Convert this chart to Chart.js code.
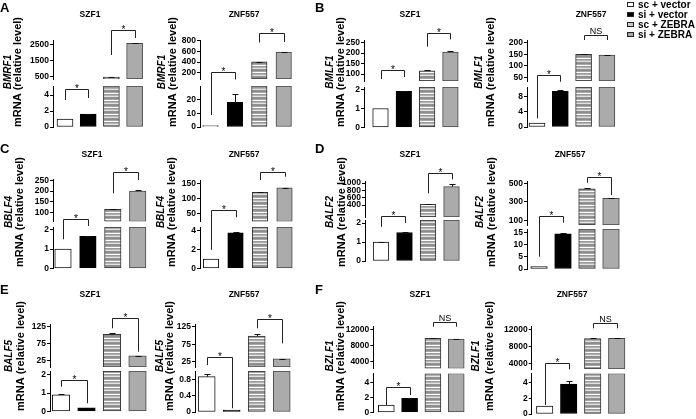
<!DOCTYPE html>
<html>
<head>
<meta charset="utf-8">
<script src="https://cdn.jsdelivr.net/npm/chart.js@4.4.1/dist/chart.umd.min.js"></script>
<style>
html, body { margin: 0; padding: 0; background: #fff; overflow: hidden; width: 696px; height: 419px; }
#fig { position: relative; width: 696px; height: 419px; font-family: "Liberation Sans", Arial, sans-serif; }
#fig canvas { position: absolute; }
.letter { position: absolute; font-weight: bold; font-size: 13px; line-height: 13px; }
.key { position: absolute; left: 627px; font-size: 10px; font-weight: bold; line-height: 10px; white-space: nowrap; }
.key i { display: inline-block; width: 5px; height: 3px; border: 1px solid #222; margin-right: 4px; vertical-align: 1px; }
</style>
</head>
<body>
<div id="fig"></div>
<script>
// groups in legend order
const groups = ['sc + vector', 'si + vector', 'sc + ZEBRA', 'si + ZEBRA'];
const cells = ['SZF1', 'ZNF557'];
const genes = ['BMRF1', 'BMLF1', 'BBLF4', 'BALF2', 'BALF5', 'BZLF1'];

// relative mRNA levels + error
const aSzf1 = [1, 1.6, 490, 2600];     const aSzf1Err = [0, 0.03, 20, 40];
const aZnf  = [1, 18, 405, 585];       const aZnfErr  = [0, 6, 5, 10];
const bSzf1 = [1, 1.9, 115, 205];      const bSzf1Err = [0, 0.02, 2, 5];
const bZnf  = [1, 9.3, 150, 146];      const bZnfErr  = [0, 0.3, 1, 2];
const cSzf1 = [1, 1.65, 115, 200];     const cSzf1Err = [0, 0.02, 2, 5];
const cZnf  = [1, 3.8, 120, 135];      const cZnfErr  = [0, 0.05, 1, 1];
const dSzf1 = [1, 1.5, 420, 900];      const dSzf1Err = [0.02, 0.02, 15, 60];
const dZnf  = [1, 14.3, 440, 340];     const dZnfErr  = [0, 0.2, 5, 5];
const eSzf1 = [0.9, 0.2, 103, 40];     const eSzf1Err = [0.07, 0, 5, 1];
const eZnf  = [0.87, 0.05, 98, 33];    const eZnfErr  = [0.06, 0, 6, 1];
const fSzf1 = [1, 1.9, 9900, 9700];    const fSzf1Err = [0, 0.05, 60, 40];
const fZnf  = [1, 3.8, 9800, 9900];    const fZnfErr  = [0, 0.4, 60, 60];

// tick labels, upper and lower part of each broken axis
const aSzf1Hi = [500, 1500, 2500];      const aSzf1Lo = [0, 2, 4];
const aZnfHi  = [200, 400, 600, 800];   const aZnfLo  = [0, 10, 20];
const bSzf1Hi = [100, 150, 200, 250];   const bSzf1Lo = [0, 1, 2];
const bZnfHi  = [50, 100, 150, 200];    const bZnfLo  = [0, 4, 8];
const cSzf1Hi = [100, 150, 200, 250];   const cSzf1Lo = [0, 1, 2];
const cZnfHi  = [50, 100, 150];         const cZnfLo  = [0, 2, 4];
const dSzf1Hi = [400, 600, 800, 1000];  const dSzf1Lo = [0, 1, 2];
const dZnfHi  = [100, 300, 500];        const dZnfLo  = [0, 5, 10, 15];
const eSzf1Hi = [25, 75, 125];          const eSzf1Lo = [0, 1, 2];
const eZnfHi  = [25, 75, 125];          const eZnfLo  = [0, 0.4, 0.8];
const fSzf1Hi = [4000, 8000, 12000];    const fSzf1Lo = [0, 2, 4];
const fZnfHi  = [4000, 8000, 12000];    const fZnfLo  = [0, 2, 4];

// axis ranges: [upper min, upper max, lower max]
const aSzf1Rng = [375, 2812, 5.125];
const aZnfRng  = [89, 809, 29.8];
const bSzf1Rng = [66.5, 263, 2.13];
const bZnfRng  = [34, 211.7, 10.4];
const cSzf1Rng = [59, 253.7, 2.13];
const cZnfRng  = [22.7, 161, 4.41];
const dSzf1Rng = [73, 1055, 2.16];
const dZnfRng  = [54, 519, 16.3];
const eSzf1Rng = [7.5, 132.9, 2.2];
const eZnfRng  = [9.9, 132.7, 1.01];
const fSzf1Rng = [2284, 12883, 5.2];
const fZnfRng  = [2659, 12659, 5.13];

// significance brackets: [bar a, bar b, axis, level, left end, right end, label]
const aSzf1Sig = [[0, 1, 'lo', 4.75, 3.375, 3.625, '*'], [2, 3, 'hi', 3437, 1875, 2937, '*']];
const aZnfSig  = [[0, 1, 'hi', 218, -576, 80, '*'], [2, 3, 'hi', 938, 763, 772, '*']];
const bSzf1Sig = [[0, 1, 'hi', 119, 76, 85.6, '*'], [2, 3, 'hi', 296.5, 231, 266, '*']];
const bZnfSig  = [[0, 1, 'hi', 60, -127.7, 31, '*'], [2, 3, 'hi', 233.4, 211.7, 211.7, 'NS']];
const cSzf1Sig = [[0, 1, 'lo', 2.52, 1.5, 2.18, '*'], [2, 3, 'hi', 287, 190, 251.4, '*']];
const cZnfSig  = [[0, 1, 'hi', 61, -72, 37, '*'], [2, 3, 'hi', 188.7, 161, 172, '*']];
const dSzf1Sig = [[0, 1, 'lo', 2.37, 1.8, 2.0, '*'], [2, 3, 'hi', 1265, 719, 1100, '*']];
const dZnfSig  = [[0, 1, 'hi', 150, -285, 79, '*'], [2, 3, 'hi', 570, 506, 374, '*']];
const eSzf1Sig = [[0, 1, 'lo', 1.72, 1.35, 0.45, '*'], [2, 3, 'hi', 149.5, 120.4, 52, '*']];
const eZnfSig  = [[0, 1, 'hi', 37.6, 15.6, -108, '*'], [2, 3, 'hi', 146.1, 120.4, 77.5, '*']];
const fSzf1Sig = [[0, 1, 'lo', 3.44, 1.0, 2.33, '*'], [2, 3, 'hi', 14094, 12833, 12833, 'NS']];
const fZnfSig  = [[0, 1, 'hi', 4000, -5812, 2588, '*'], [2, 3, 'hi', 13553, 12235, 12235, 'NS']];

const FONT = '"Liberation Sans", Arial, sans-serif';
const NARROW = '"Liberation Sans Narrow", "Liberation Sans", Arial, sans-serif';
Chart.defaults.font.family = FONT;
const AXIS_W = 30; // room kept for the tick labels

// page layout: canvas box, plot [axis x, first bar x, step, bar width, upper top, upper bottom, lower top, lower bottom]
const panels = [
  { gene: 0, cell: 0, v: aSzf1, e: aSzf1Err, hi: aSzf1Hi, lo: aSzf1Lo, rng: aSzf1Rng, sig: aSzf1Sig,
    box: [0, 0, 152, 140], plot: [53, 65, 23.2, 16, 40, 79, 86, 127], title: [90, 15], ylab: [8, 18, 72] },
  { gene: 0, cell: 1, v: aZnf, e: aZnfErr, hi: aZnfHi, lo: aZnfLo, rng: aZnfRng, sig: aZnfSig,
    box: [150, 0, 152, 140], plot: [200, 210.5, 24.4, 15.5, 40, 79, 86, 127], title: [244, 15], ylab: [162, 173, 72] },
  { gene: 1, cell: 0, v: bSzf1, e: bSzf1Err, hi: bSzf1Hi, lo: bSzf1Lo, rng: bSzf1Rng, sig: bSzf1Sig,
    box: [318, 0, 152, 140], plot: [364, 380.5, 23.3, 15.6, 40, 81, 87, 127.5], title: [410, 15], ylab: [330, 341, 72] },
  { gene: 1, cell: 1, v: bZnf, e: bZnfErr, hi: bZnfHi, lo: bZnfLo, rng: bZnfRng, sig: bZnfSig,
    box: [466, 0, 170, 140], plot: [527, 537, 23.3, 16, 40, 81, 87, 127], title: [591, 15], ylab: [479, 491, 72] },
  { gene: 2, cell: 0, v: cSzf1, e: cSzf1Err, hi: cSzf1Hi, lo: cSzf1Lo, rng: cSzf1Rng, sig: cSzf1Sig,
    box: [0, 140, 152, 140], plot: [53, 63, 24.9, 16.5, 179.5, 221.5, 227, 268.5], title: [92, 155], ylab: [9, 20, 212] },
  { gene: 2, cell: 1, v: cZnf, e: cZnfErr, hi: cZnfHi, lo: cZnfLo, rng: cZnfRng, sig: cZnfSig,
    box: [150, 140, 152, 140], plot: [200, 211, 24.5, 15.5, 180, 221.5, 227, 268.5], title: [244, 155], ylab: [161, 172, 212] },
  { gene: 3, cell: 0, v: dSzf1, e: dSzf1Err, hi: dSzf1Hi, lo: dSzf1Lo, rng: dSzf1Rng, sig: dSzf1Sig,
    box: [318, 140, 152, 140], plot: [365, 381, 23.5, 15.7, 181, 217, 220, 261], title: [410, 155], ylab: [330, 342, 212] },
  { gene: 3, cell: 1, v: dZnf, e: dZnfErr, hi: dZnfHi, lo: dZnfLo, rng: dZnfRng, sig: dZnfSig,
    box: [466, 140, 170, 140], plot: [527, 539, 24, 16.6, 181.5, 225, 229, 269], title: [570, 155], ylab: [480, 492, 212] },
  { gene: 4, cell: 0, v: eSzf1, e: eSzf1Err, hi: eSzf1Hi, lo: eSzf1Lo, rng: eSzf1Rng, sig: eSzf1Sig,
    box: [0, 280, 152, 140], plot: [50, 61, 25.5, 17.5, 324, 367, 371, 411.5], title: [90, 295], ylab: [9, 21, 356] },
  { gene: 4, cell: 1, v: eZnf, e: eZnfErr, hi: eZnfHi, lo: eZnfLo, rng: eZnfRng, sig: eZnfSig,
    box: [150, 280, 152, 140], plot: [195, 206.7, 25, 17, 324, 367, 371, 412], title: [244, 295], ylab: [160, 170, 356] },
  { gene: 5, cell: 0, v: fSzf1, e: fSzf1Err, hi: fSzf1Hi, lo: fSzf1Lo, rng: fSzf1Rng, sig: fSzf1Sig,
    box: [318, 280, 152, 140], plot: [373.3, 386.3, 23.3, 16, 326.5, 368.5, 373.5, 412.5], title: [420, 295], ylab: [330, 341, 356] },
  { gene: 5, cell: 1, v: fZnf, e: fZnfErr, hi: fZnfHi, lo: fZnfLo, rng: fZnfRng, sig: fZnfSig,
    box: [466, 280, 170, 140], plot: [531.7, 544.7, 24, 16.5, 326.5, 369, 373.5, 414], title: [572, 295], ylab: [476, 490, 356] }
];

const fig = document.getElementById('fig');

// striped fill for "sc + ZEBRA"
function stripes() {
  const c = document.createElement('canvas');
  c.width = 4; c.height = 7;
  const g = c.getContext('2d');
  ['#8c8c8c', '#a6a6a6', '#ffffff', '#999999', '#b3b3b3', '#e2e2e2', '#929292'].forEach((col, i) => {
    g.fillStyle = col;
    g.fillRect(0, i, 4, 1);
  });
  return g.createPattern(c, 'repeat');
}
const fills = ['#ffffff', '#000000', stripes(), '#ababab'];
const edges = ['#111111', '#000000', '#333333', '#444444'];

const crisp = v => Math.round(v) + 0.5;

// error bars, brackets, title and y label
function drawDecor(chart, p) {
  const ctx = chart.ctx;
  const { hi, lo, x } = chart.scales;
  const bx = p.box[0], by = p.box[1];
  ctx.save();
  ctx.strokeStyle = '#111';
  ctx.fillStyle = '#000';
  ctx.lineWidth = 1;

  p.v.forEach((val, i) => {
    const err = p.e[i];
    if (!err) return;
    const sc = val > lo.max ? hi : lo;
    const cx = crisp(x.getPixelForValue(i));
    const y0 = sc.getPixelForValue(val), y1 = crisp(sc.getPixelForValue(val + err));
    ctx.beginPath();
    ctx.moveTo(cx, y0); ctx.lineTo(cx, y1);
    ctx.moveTo(cx - 3, y1); ctx.lineTo(cx + 3, y1);
    ctx.stroke();
  });

  p.sig.forEach(([a, b, ax, level, endA, endB, txt]) => {
    const sc = ax === 'hi' ? hi : lo;
    const xa = crisp(x.getPixelForValue(a)), xb = crisp(x.getPixelForValue(b));
    const yl = crisp(sc.getPixelForValue(level));
    ctx.strokeStyle = '#222';
    ctx.beginPath();
    ctx.moveTo(xa, sc.getPixelForValue(endA));
    ctx.lineTo(xa, yl);
    ctx.lineTo(xb, yl);
    ctx.lineTo(xb, sc.getPixelForValue(endB));
    ctx.stroke();
    ctx.textAlign = 'center';
    ctx.textBaseline = 'alphabetic';
    if (txt === 'NS') {
      ctx.font = '9px ' + FONT;
      ctx.fillText(txt, (xa + xb) / 2, yl - 2);
    } else {
      ctx.font = '10px ' + FONT;
      ctx.fillText(txt, (xa + xb) / 2, yl + 2);
    }
  });

  ctx.textAlign = 'center';
  ctx.textBaseline = 'middle';
  ctx.font = 'bold 8.5px ' + FONT;
  ctx.fillText(cells[p.cell], p.title[0] - bx, p.title[1] - by);

  const [x1, x2, yc] = p.ylab;
  ctx.save();
  ctx.translate(x1 - bx, yc - by);
  ctx.rotate(-Math.PI / 2);
  ctx.font = 'italic bold 10px ' + FONT;
  ctx.fillText(genes[p.gene], 0, 0);
  ctx.restore();
  ctx.save();
  ctx.translate(x2 - bx, yc - by);
  ctx.rotate(-Math.PI / 2);
  ctx.font = 'bold 11px ' + FONT;
  ctx.fillText('mRNA (relative level)', 0, 0);
  ctx.restore();

  ctx.restore();
}

function yAxis(min, max, ticks, weight, stackWeight) {
  return {
    type: 'linear', position: 'left', stack: 'broken', stackWeight, weight,
    min, max,
    afterBuildTicks: axis => { axis.ticks = ticks.map(v => ({ value: v })); },
    afterFit: axis => { axis.width = AXIS_W; },
    ticks: {
      autoSkip: false, padding: 1, color: '#000',
      font: { family: NARROW, size: 8.5, weight: 'bold', lineHeight: 1 },
      callback: v => String(v)
    },
    grid: { drawOnChartArea: false, tickLength: 3, color: '#000' },
    border: { color: '#000', width: 1 }
  };
}

function makePanel(p) {
  const [bx, by, bw, bh] = p.box;
  const [L, c0, step, barW, upTop, upBot, loTop, loBot] = p.plot;
  const R = c0 + 3.5 * step;
  const [hiMin, hiMax, loMax] = p.rng;

  const cv = document.createElement('canvas');
  cv.width = bw; cv.height = bh;
  cv.style.left = bx + 'px'; cv.style.top = by + 'px';
  cv.style.width = bw + 'px'; cv.style.height = bh + 'px';
  fig.appendChild(cv);

  const common = {
    backgroundColor: fills, borderColor: edges, borderWidth: 1,
    borderSkipped: false, barThickness: barW, grouped: false
  };

  new Chart(cv, {
    type: 'bar',
    data: {
      datasets: [
        Object.assign({ label: 'lower', yAxisID: 'lo',
          data: p.v.map((val, i) => ({ x: i, y: Math.min(val, loMax) })) }, common),
        Object.assign({ label: 'upper', yAxisID: 'hi',
          data: p.v.map((val, i) => ({ x: i, y: val > hiMin ? [hiMin, val] : null })) }, common)
      ]
    },
    options: {
      responsive: false,
      animation: false,
      events: [],
      layout: { padding: { left: L - bx - AXIS_W, right: bx + bw - R, top: upTop - by, bottom: by + bh - loBot } },
      plugins: { legend: { display: false }, tooltip: { enabled: false }, title: { display: false } },
      scales: {
        x: { type: 'linear', display: false, min: -(c0 - L) / step, max: 3.5, offset: false },
        lo: yAxis(0, loMax, p.lo, 1, loBot - loTop),
        gap: {
          type: 'linear', position: 'left', stack: 'broken', stackWeight: loTop - upBot, weight: 2,
          min: 0, max: 1, afterFit: axis => { axis.width = AXIS_W; },
          ticks: { display: false }, grid: { display: false }, border: { display: false }
        },
        hi: yAxis(hiMin, hiMax, p.hi, 3, upBot - upTop)
      }
    },
    plugins: [{ id: 'decor', afterDraw: chart => drawDecor(chart, p) }]
  });
}

panels.forEach(makePanel);

// panel letters
[['A', 0, 1], ['B', 315, 1], ['C', 0, 142], ['D', 315, 142], ['E', 0, 283], ['F', 315, 283]].forEach(([t, x, y]) => {
  const d = document.createElement('div');
  d.className = 'letter';
  d.textContent = t;
  d.style.left = x + 'px';
  d.style.top = y + 'px';
  fig.appendChild(d);
});

// legend
const keyFills = ['#ffffff', '#000000', '#c9c9c9', '#a8a8a8'];
groups.forEach((g, i) => {
  const d = document.createElement('div');
  d.className = 'key';
  d.style.top = (i * 9.9) + 'px';
  const sw = document.createElement('i');
  sw.style.background = keyFills[i];
  d.appendChild(sw);
  d.appendChild(document.createTextNode(g));
  fig.appendChild(d);
});
</script>
</body>
</html>
